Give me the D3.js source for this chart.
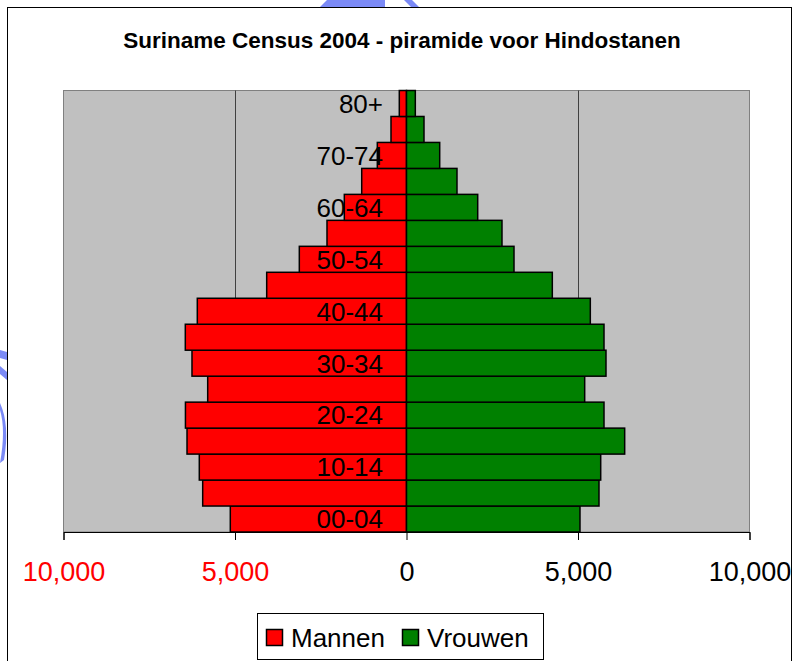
<!DOCTYPE html>
<html>
<head>
<meta charset="utf-8">
<script src="https://cdn.jsdelivr.net/npm/d3@7"></script>
<style>
  body { margin: 0; background: #fff; }
  svg { display: block; font-family: Arial, "Liberation Sans", sans-serif; }
</style>
</head>
<body>
<div id="chart"></div>
<script>
// Data
const ageGroups = ["00-04", "05-09", "10-14", "15-19", "20-24", "25-29", "30-34", "35-39",
  "40-44", "45-49", "50-54", "55-59", "60-64", "65-69", "70-74", "75-79", "80+"];
const mannen = [5137, 5942, 6041, 6399, 6445, 5796, 6254, 6449,
  6099, 4076, 3125, 2318, 1813, 1306, 851, 452, 210];
const vrouwen = [5058, 5612, 5662, 6361, 5758, 5195, 5816, 5758,
  5359, 4251, 3134, 2784, 2076, 1472, 968, 510, 257];
const xTicks = [-10000, -5000, 0, 5000, 10000];
const shownLabels = ["00-04", "10-14", "20-24", "30-34", "40-44", "50-54", "60-64", "70-74", "80+"];

const W = 795, H = 661;
const plot = { left: 63.5, right: 749.5, top: 90.5, bottom: 532 };

const svg = d3.select("#chart").append("svg")
  .attr("width", W).attr("height", H);

// chart frame
svg.append("rect")
  .attr("x", 7.5).attr("y", 7.5)
  .attr("width", 784).attr("height", 720)
  .attr("fill", "#fff").attr("stroke", "#000");

// little blue clipart leftovers at the edges
const blue = svg.append("g").attr("fill", "#5b6ef5").attr("opacity", 0.8);
blue.append("path").attr("d", "M320,7 L327,0 L385,0 L385,7 Z");
blue.append("path").attr("d", "M404,0 L412,0 L419,7 L411,7 Z");
blue.append("path").attr("d", "M0,350 L7,352 L7,360 L0,358 Z");
blue.append("path").attr("d", "M0,366 L7,372 L7,380 L0,374 Z");
blue.append("path").attr("d", "M0,403 Q10,425 4,460 L0,463 Q6,430 0,410 Z");

// title
svg.append("text")
  .attr("x", 402).attr("y", 48)
  .attr("text-anchor", "middle")
  .attr("font-size", 22.5).attr("font-weight", "bold")
  .text("Suriname Census 2004 - piramide voor Hindostanen");

const x = d3.scaleLinear().domain([-10000, 10000]).range([plot.left, plot.right]);
const y = d3.scaleBand().domain(ageGroups).range([plot.bottom, plot.top]).padding(0);

// plot background
svg.append("rect")
  .attr("x", plot.left).attr("y", plot.top)
  .attr("width", plot.right - plot.left).attr("height", plot.bottom - plot.top)
  .attr("fill", "#c0c0c0").attr("stroke", "#808080");

// gridlines
svg.append("g").selectAll("line")
  .data([-5000, 5000])
  .enter().append("line")
  .attr("x1", (d) => Math.round(x(d)) + 0.5).attr("x2", (d) => Math.round(x(d)) + 0.5)
  .attr("y1", plot.top).attr("y2", plot.bottom)
  .attr("stroke", "#404040");

// bars
const rows = ageGroups.map((g, i) => ({ g, m: mannen[i], v: vrouwen[i] }));
svg.append("g").selectAll("rect")
  .data(rows).enter().append("rect")
  .attr("x", (d) => x(-d.m)).attr("y", (d) => y(d.g))
  .attr("width", (d) => x(0) - x(-d.m)).attr("height", y.bandwidth())
  .attr("fill", "#ff0000").attr("stroke", "#000").attr("stroke-width", 1.5);
svg.append("g").selectAll("rect")
  .data(rows).enter().append("rect")
  .attr("x", x(0)).attr("y", (d) => y(d.g))
  .attr("width", (d) => x(d.v) - x(0)).attr("height", y.bandwidth())
  .attr("fill", "#008000").attr("stroke", "#000").attr("stroke-width", 1.5);

// x axis
const xAxis = svg.append("g")
  .attr("transform", `translate(0,${plot.bottom})`)
  .call(d3.axisBottom(x).tickValues(xTicks).tickSize(8).tickPadding(22)
    .tickFormat((d) => d3.format(",")(Math.abs(d))));
xAxis.select(".domain").attr("stroke", "#000");
xAxis.selectAll(".tick line").attr("stroke", "#000");
xAxis.selectAll(".tick text")
  .attr("font-size", 27).attr("font-family", "Arial, 'Liberation Sans', sans-serif")
  .attr("fill", (d) => (d < 0 ? "#ff0000" : "#000"));

// category labels
svg.append("g").selectAll("text")
  .data(shownLabels).enter().append("text")
  .attr("x", 383).attr("y", (d) => y(d) + y.bandwidth() / 2)
  .attr("dy", "0.36em")
  .attr("text-anchor", "end")
  .attr("font-size", 26)
  .text((d) => d);

// legend
const legend = svg.append("g");
legend.append("rect")
  .attr("x", 257.5).attr("y", 613.5).attr("width", 286).attr("height", 46)
  .attr("fill", "#fff").attr("stroke", "#000");
const legendItems = [
  { name: "Mannen", color: "#ff0000", x: 266 },
  { name: "Vrouwen", color: "#008000", x: 402 },
];
legendItems.forEach((it) => {
  legend.append("rect")
    .attr("x", it.x + 0.5).attr("y", 629.5).attr("width", 16).attr("height", 16)
    .attr("fill", it.color).attr("stroke", "#000").attr("stroke-width", 1.5);
  legend.append("text")
    .attr("x", it.x + 25).attr("y", 647)
    .attr("font-size", 26)
    .text(it.name);
});
</script>
</body>
</html>
